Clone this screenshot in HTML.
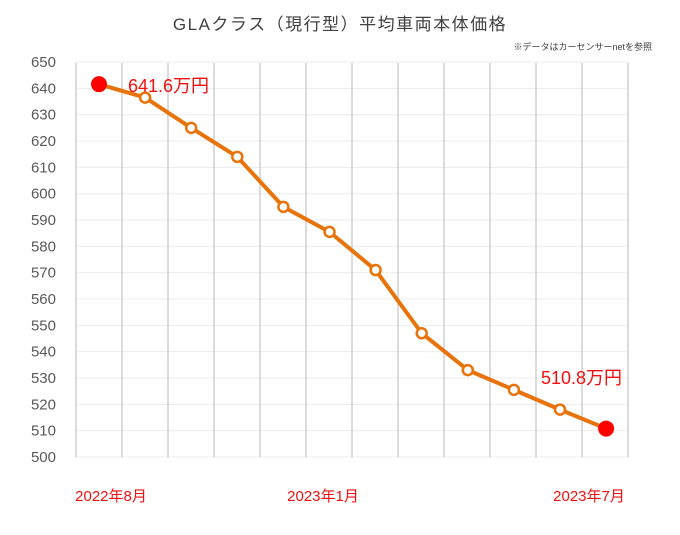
<!DOCTYPE html>
<html><head><meta charset="utf-8"><style>
body{margin:0;background:#fff;}
svg text{font-family:"Liberation Sans","Noto Sans CJK JP",sans-serif;}
</style></head><body>
<svg width="680" height="530" xmlns="http://www.w3.org/2000/svg">
<defs><filter id="sh" x="-2" y="-0.1" width="5" height="1.2"><feGaussianBlur stdDeviation="1.2"/></filter></defs>
<rect width="680" height="530" fill="#fff"/>
<text x="340" y="30" font-size="17" fill="#404040" text-anchor="middle" letter-spacing="1.5">GLAクラス（現行型）平均車両本体価格</text>
<text x="652" y="50" font-size="9" fill="#404040" text-anchor="end">※データはカーセンサーnetを参照</text>
<g id="grid"></g>
<g id="axis" font-size="15" fill="#595959" text-anchor="end"></g>
<polyline id="ln" fill="none" stroke="#e8730a" stroke-width="4" stroke-linejoin="round"/>
<g id="pts"></g>
<text x="128" y="92" font-size="18" fill="#f01010">641.6万円</text>
<text x="541" y="384" font-size="18" fill="#f01010">510.8万円</text>
<text x="111" y="501" font-size="15" fill="#f01010" text-anchor="middle">2022年8月</text>
<text x="323" y="501" font-size="15" fill="#f01010" text-anchor="middle">2023年1月</text>
<text x="589" y="501" font-size="15" fill="#f01010" text-anchor="middle">2023年7月</text>
</svg>
<script>
var ns="http://www.w3.org/2000/svg";
function el(p,t,a){var e=document.createElementNS(ns,t);for(var k in a)e.setAttribute(k,a[k]);document.getElementById(p).appendChild(e);return e;}
function Y(v){return 457-(v-500)*2.633;}
for(var v=500;v<=650;v+=10){el("grid","line",{x1:76,x2:628,y1:Y(v),y2:Y(v),stroke:"#ececec","stroke-width":1});
var t=el("axis","text",{x:56,y:Y(v)+5});t.textContent=v;}
for(var k=0;k<=12;k++){var x=76+46*k;
el("grid","line",{x1:x+1.5,x2:x+1.5,y1:63,y2:462,stroke:"#ccc","stroke-width":2.5,filter:"url(#sh)"});
el("grid","line",{x1:x,x2:x,y1:63,y2:457,stroke:"#c8c8c8","stroke-width":1.3});}
var d=[641.6,636.5,625,614,595,585.5,571,547,533,525.5,518,510.8],p=[];
for(var i=0;i<d.length;i++)p.push((99+46.1*i)+","+Y(d[i]));
document.getElementById("ln").setAttribute("points",p.join(" "));
for(var i=0;i<d.length;i++){var x=99+46.1*i,y=Y(d[i]);
if(i==0||i==11)el("pts","circle",{cx:x,cy:y,r:8,fill:"#ff0000"});
else el("pts","circle",{cx:x,cy:y,r:5,fill:"#fff",stroke:"#e8730a","stroke-width":2.5});}
</script>
</body></html>
